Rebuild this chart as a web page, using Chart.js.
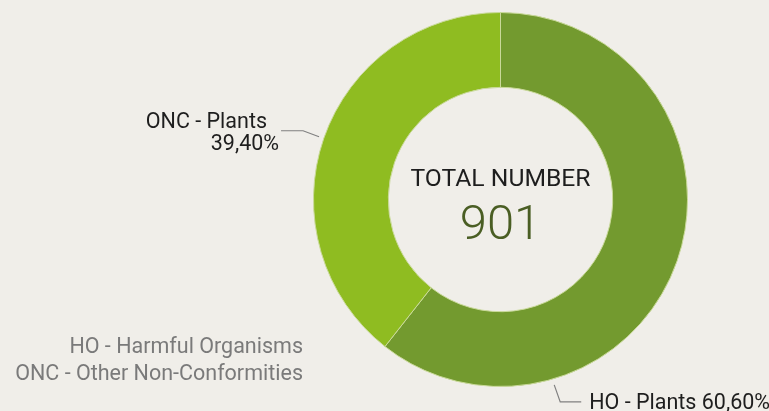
<!DOCTYPE html>
<html lang="en">
<head>
    <meta charset="UTF-8">
    <title>Total number</title>
    <script src="https://cdn.jsdelivr.net/npm/chart.js"></script>
    <style>
        html, body { margin: 0; padding: 0; background: #f0eee9; }
        .container { width: 769px; height: 411px; position: relative; }
    </style>
</head>
<body>
    <div class="container">
        <canvas id="doughnut-chart"></canvas>
    </div>

    <script>
        // Données du graphique
        const categories = ['HO - Plants', 'ONC - Plants'];
        const percentages = [60.6, 39.4];
        const totalNumber = 901;
        const legendLines = ['HO - Harmful Organisms', 'ONC - Other Non-Conformities'];

        const colors = ['#739a2f', '#8fbc21'];
        const fontFamily = 'Roboto, "DejaVu Sans", sans-serif';

        function pct(v) {
            return v.toFixed(2).replace('.', ',') + '%';
        }

        // Plugin pour le texte central, les étiquettes et la légende
        const annotations = {
            id: 'annotations',
            afterDraw(chart) {
                const ctx = chart.ctx;
                const arcs = chart.getDatasetMeta(0).data;
                const cx = arcs[0].x, cy = arcs[0].y, r = arcs[0].outerRadius;

                ctx.save();
                ctx.textBaseline = 'alphabetic';

                // texte central
                ctx.textAlign = 'center';
                ctx.fillStyle = '#1e1e1e';
                ctx.font = '24.7px ' + fontFamily;
                ctx.fillText('TOTAL NUMBER', cx, cy - 14);
                ctx.fillStyle = '#4a5e24';
                ctx.font = '300 49px ' + fontFamily;
                ctx.fillText(String(totalNumber), cx, cy + 39);

                // lignes de rappel
                ctx.strokeStyle = '#808080';
                ctx.lineWidth = 1.2;

                // ONC - Plants
                const a1 = (arcs[1].startAngle + arcs[1].endAngle) / 2;
                const p1 = { x: cx + Math.cos(a1) * (r + 5), y: cy + Math.sin(a1) * (r + 5) };
                ctx.beginPath();
                ctx.moveTo(p1.x, p1.y);
                ctx.lineTo(p1.x - 16, p1.y - 6);
                ctx.lineTo(p1.x - 38, p1.y - 6);
                ctx.stroke();
                ctx.fillStyle = '#1e1e1e';
                ctx.font = '21.5px ' + fontFamily;
                ctx.textAlign = 'right';
                ctx.fillText(categories[1], p1.x - 52, p1.y - 9);
                ctx.fillText(pct(percentages[1]), p1.x - 40, p1.y + 13);

                // HO - Plants
                const a0 = arcs[0].startAngle + (arcs[0].endAngle - arcs[0].startAngle) * 0.751;
                const p0 = { x: cx + Math.cos(a0) * (r + 6), y: cy + Math.sin(a0) * (r + 6) };
                ctx.beginPath();
                ctx.moveTo(p0.x, p0.y);
                ctx.lineTo(p0.x + 6, p0.y + 17);
                ctx.lineTo(p0.x + 27, p0.y + 17);
                ctx.stroke();
                ctx.textAlign = 'left';
                ctx.fillText(categories[0] + ' ' + pct(percentages[0]), p0.x + 35, p0.y + 24);

                // légende
                ctx.fillStyle = '#7a7a7a';
                ctx.font = '21.5px ' + fontFamily;
                ctx.textAlign = 'right';
                ctx.fillText(legendLines[0], 303, 353);
                ctx.fillText(legendLines[1], 303, 380);

                ctx.restore();
            }
        };

        const ctx = document.getElementById('doughnut-chart').getContext('2d');
        new Chart(ctx, {
            type: 'doughnut',
            data: {
                labels: categories,
                datasets: [{
                    data: percentages,
                    backgroundColor: colors,
                    borderColor: '#c9d99a',
                    borderWidth: 1
                }]
            },
            options: {
                responsive: true,
                maintainAspectRatio: false,
                animation: false,
                cutout: '60%',
                layout: {
                    padding: { top: 12, bottom: 24, left: 313, right: 81 }
                },
                plugins: {
                    legend: { display: false },
                    tooltip: { enabled: false }
                }
            },
            plugins: [annotations]
        });
    </script>
</body>
</html>
